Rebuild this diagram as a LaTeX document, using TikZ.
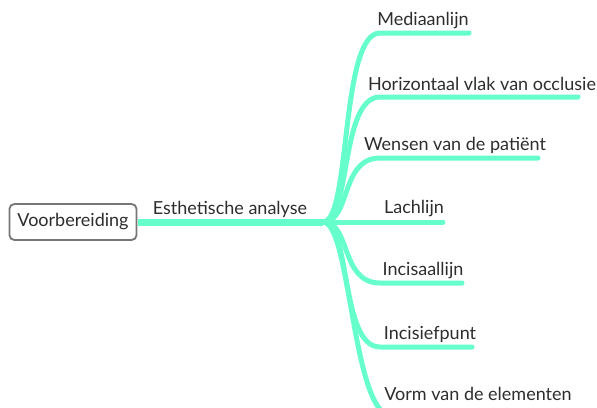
\documentclass[tikz,border=0pt]{standalone}
\usepackage{fontspec}
\setmainfont{Lato}
\usetikzlibrary{positioning}
\definecolor{mint}{RGB}{102,255,204}
\definecolor{boxgrey}{RGB}{118,118,118}
\definecolor{inkgrey}{RGB}{45,45,45}
\tikzset{   root/.style = {rectangle, rounded corners=5pt, draw = boxgrey, line width=1.8pt, fill = white, inner xsep=8pt, minimum height=36pt, text=inkgrey, font=\fontsize{18}{21}\selectfont},
            topic/.style = {text=inkgrey, font=\fontsize{18}{21}\selectfont, inner sep=0pt, anchor=base},
            trunk/.style = {draw=mint, line width=7pt},
            branch/.style = {draw=mint, line width=5pt, line cap=round}}
\begin{document}
\begin{tikzpicture}[x=1pt,y=-1pt]
\useasboundingbox (0,0) rectangle (597,407);
\clip (0,0) rectangle (597,407);
% root and main topic
\coordinate (hub) at (323,222);
\draw[trunk] (138,222) -- (hub);
\node[root] (prep) at (73,222) {Voorbereiding};
\node[topic] (esth) at (230,214) {Esthetische analyse};
% branch ends
\coordinate (s1) at (380,33);  \coordinate (e1) at (469,33);
\coordinate (s2) at (380,97);  \coordinate (e2) at (578,97);
\coordinate (s3) at (380,158); \coordinate (e3) at (538,158);
\coordinate (e4) at (443,222);
\coordinate (s5) at (380,283); \coordinate (e5) at (462,283);
\coordinate (s6) at (380,347); \coordinate (e6) at (472,347);
\coordinate (s7) at (392,416); \coordinate (e7) at (570,416);
% branches
\draw[branch] (hub) .. controls +(28,0) and +(-40,0) .. (s1) -- (e1);
\draw[branch] (hub) .. controls +(28,0) and +(-40,0) .. (s2) -- (e2);
\draw[branch] (hub) .. controls +(28,0) and +(-40,0) .. (s3) -- (e3);
\draw[branch] (hub) -- (e4);
\draw[branch] (hub) .. controls +(28,0) and +(-40,0) .. (s5) -- (e5);
\draw[branch] (hub) .. controls +(28,0) and +(-40,0) .. (s6) -- (e6);
\draw[branch] (hub) .. controls +(28,0) and +(-40,0) .. (s7) -- (e7);
% labels
\node[topic] (t1) at (423,25)  {Mediaanlijn};
\node[topic] (t2) at (482,90)  {Horizontaal vlak van occlusie};
\node[topic] (t3) at (455,150) {Wensen van de patiënt};
\node[topic] (t4) at (414,213) {Lachlijn};
\node[topic] (t5) at (423,275) {Incisaallijn};
\node[topic] (t6) at (430,339) {Incisiefpunt};
\node[topic] (t7) at (478,400) {Vorm van de elementen};
\end{tikzpicture}
\end{document}
